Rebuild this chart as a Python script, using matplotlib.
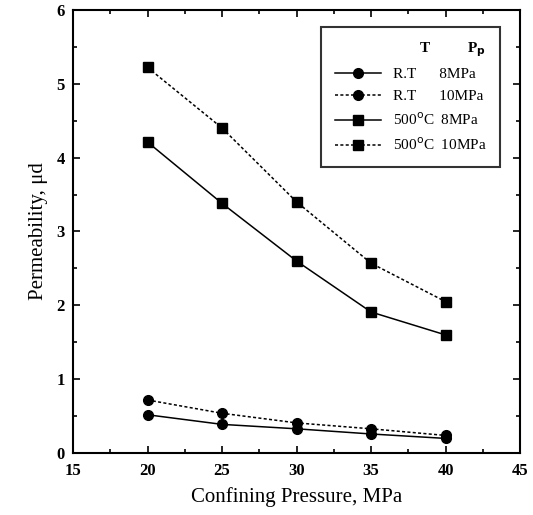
import matplotlib
matplotlib.use("Agg")
import matplotlib.pyplot as plt
from matplotlib.ticker import MultipleLocator

plt.rcParams['font.family'] = ['Liberation Serif', 'DejaVu Serif']

# confining pressure, MPa
pressure = [20, 25, 30, 35, 40]
rt_8 = [0.52, 0.39, 0.33, 0.26, 0.20]
rt_10 = [0.72, 0.54, 0.41, 0.33, 0.24]
hot_8 = [4.21, 3.38, 2.60, 1.91, 1.60]
hot_10 = [5.22, 4.40, 3.40, 2.57, 2.05]
labels = ["R.T      8MPa", "R.T      10MPa", "500$^{\\rm o}$C  8MPa", "500$^{\\rm o}$C  10MPa"]

fig = plt.figure(figsize=(5.33, 5.15), dpi=100)
ax = fig.add_axes([0.137, 0.12, 0.839, 0.861])

dash = (0, (2, 1.5))
ax.plot(pressure, rt_8, '-', color='k', lw=1.1, marker='o', ms=7, label=labels[0])
ax.plot(pressure, rt_10, linestyle=dash, color='k', lw=1.1, marker='o', ms=7, label=labels[1])
ax.plot(pressure, hot_8, '-', color='k', lw=1.1, marker='s', ms=6.5, label=labels[2])
ax.plot(pressure, hot_10, linestyle=dash, color='k', lw=1.1, marker='s', ms=6.5, label=labels[3])

ax.set_xlim(15, 45)
ax.set_ylim(0, 6)
ax.xaxis.set_major_locator(MultipleLocator(5))
ax.xaxis.set_minor_locator(MultipleLocator(2.5))
ax.yaxis.set_major_locator(MultipleLocator(1))
ax.yaxis.set_minor_locator(MultipleLocator(0.5))
ax.tick_params(which='both', direction='in', top=True, right=True, width=1.2)
ax.tick_params(which='major', length=5, labelsize=12)
ax.tick_params(which='minor', length=3)
ax.tick_params(axis='x', pad=7)
ax.tick_params(axis='y', pad=6)
for lab in ax.get_xticklabels() + ax.get_yticklabels():
    lab.set_fontweight('bold')
for s in ax.spines.values():
    s.set_linewidth(1.5)

ax.set_xlabel('Confining Pressure, MPa', fontsize=15, labelpad=6)
ax.set_ylabel('Permeability, μd', fontsize=15, labelpad=6)

leg = ax.legend(loc='upper right', bbox_to_anchor=(0.955, 0.962), borderaxespad=0,
                title="T          P$_{\\mathbf{p}}$",
                fontsize=11, title_fontsize=11, frameon=True, fancybox=False,
                edgecolor='k', handlelength=3, borderpad=0.9, labelspacing=0.55)
leg.get_frame().set_linewidth(1.5)
leg.get_title().set_fontweight('bold')
leg._legend_box.align = "right"

fig.savefig('out.png', dpi=100)
